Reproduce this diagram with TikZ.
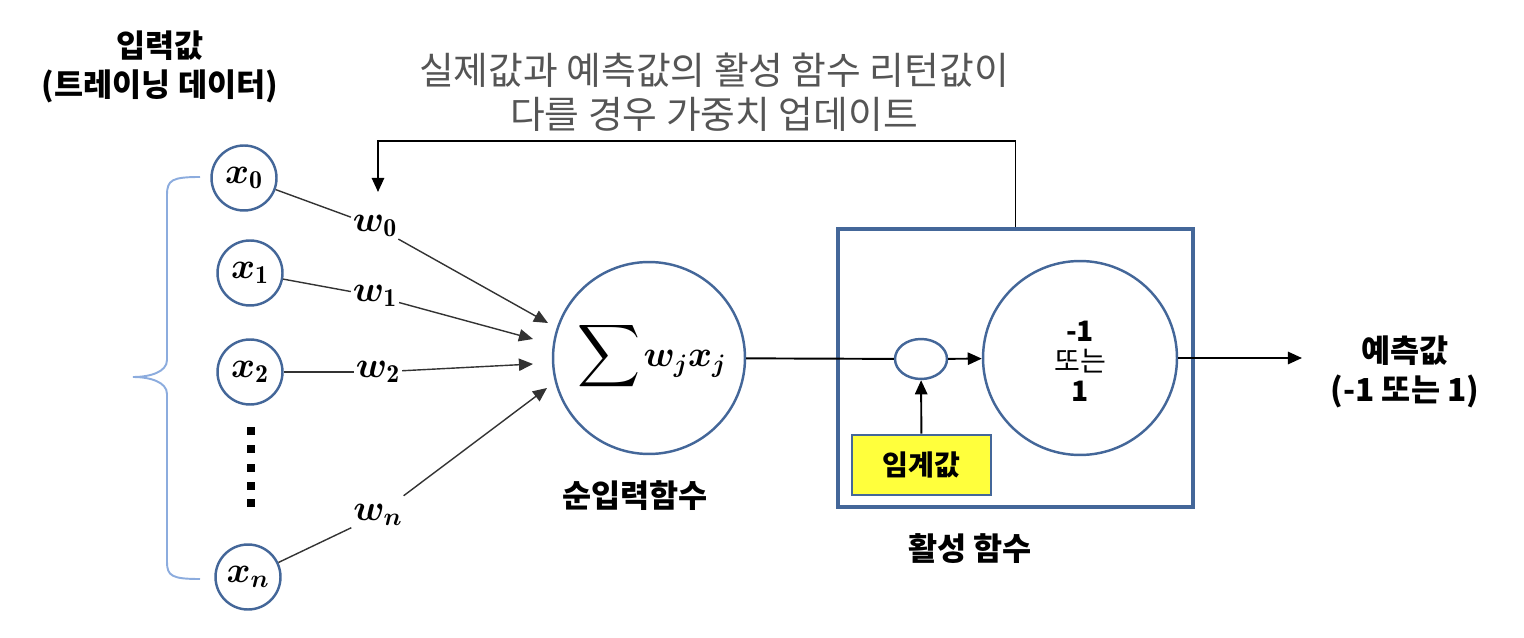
\documentclass[tikz,border=0pt]{standalone}
\usepackage{amsmath}
\usepackage{bm}
\usepackage{fontspec}
\newfontfamily\kr{Noto Sans CJK KR}
\usetikzlibrary{arrows.meta,shapes.geometric}
\definecolor{nodeblue}{RGB}{68,103,153}
\definecolor{bracecol}{RGB}{140,172,222}
\definecolor{toptext}{RGB}{85,85,85}
\definecolor{thrfill}{RGB}{255,255,60}
\tikzset{
  incircle/.style={circle, draw=nodeblue, line width=1.4pt, minimum size=1.3cm, inner sep=0pt, font=\fontsize{21}{25}\selectfont},
  wlabel/.style={inner sep=1pt, font=\fontsize{21}{25}\selectfont},
  conn/.style={draw=black!80, line width=0.8pt},
  arr/.style={conn, -{Triangle[length=8pt,width=7pt]}},
  thick arr/.style={draw=black, line width=1.1pt, -{Triangle[length=8pt,width=7pt]}},
  bigcircle/.style={circle, draw=nodeblue, line width=1.4pt, inner sep=0pt},
  krbold/.style={font=\kr\bfseries\fontsize{18}{22}\selectfont, align=center},
  dotsq/.style={fill=black, minimum size=4.6pt, inner sep=0pt},
}
\begin{document}
\begin{tikzpicture}[x=0.02cm,y=-0.02cm]
\useasboundingbox (0,0) rectangle (1524,638);

% top labels
\node[krbold] (inlabel) at (160,67) {입력값\\(트레이닝 데이터)};
\node[font=\kr\fontsize{21.5}{25}\selectfont, text=toptext, align=center] (fbtext) at (714,92) {실제값과 예측값의 활성 함수 리턴값이\\다를 경우 가중치 업데이트};

% input circles
\node[incircle] (x0) at (244,178) {$\bm{x}_{\mathbf{0}}$};
\node[incircle] (x1) at (250,273) {$\bm{x}_{\mathbf{1}}$};
\node[incircle] (x2) at (250,372) {$\bm{x}_{\mathbf{2}}$};
\node[incircle] (xn) at (248,577) {$\bm{x}_{\bm{n}}$};

% dots
\foreach \i/\yy in {1/431,2/449,3/468,4/486,5/503}
  \node[dotsq] (dot\i) at (251,\yy) {};

% brace
\draw[bracecol, line width=1.1pt] (200,177) .. controls (172,177) and (167,180) .. (167,195) -- (167,360)
  .. controls (167,372) and (150,377) .. (133,377)
  .. controls (150,377) and (167,382) .. (167,394) -- (167,562)
  .. controls (167,576) and (172,579) .. (200,579);

% weights
\node[wlabel] (w0) at (375,226) {$\bm{w}_{\mathbf{0}}$};
\node[wlabel] (w1) at (375,296) {$\bm{w}_{\mathbf{1}}$};
\node[wlabel] (w2) at (378,372) {$\bm{w}_{\mathbf{2}}$};
\node[wlabel] (wn) at (378,515) {$\bm{w}_{\bm{n}}$};

% sum node
\node[bigcircle, minimum size=3.84cm] (sum) at (649,358) {};
\node (sumtext) at (652,356) {{\fontsize{29}{30}\selectfont$\displaystyle\sum$}\,{\fontsize{21}{25}\selectfont$\bm{w_jx_j}$}};
\node[krbold] (sumlabel) at (635,496) {순입력함수};

% arrow tips at sum
\coordinate (t0) at (548,323);
\coordinate (t1) at (533,339);
\coordinate (t2) at (533,364);
\coordinate (tn) at (547,388);

\draw[conn] (x0) -- (w0);
\draw[conn] (x1) -- (w1);
\draw[conn] (x2) -- (w2);
\draw[conn] (xn) -- (wn);
\draw[arr] (w0) -- (t0);
\draw[arr] (w1) -- (t1);
\draw[arr] (w2) -- (t2);
\draw[arr, shorten <=6pt] (wn) -- (tn);

% activation box
\node[draw=nodeblue, line width=2.2pt, minimum width=7.1cm, minimum height=5.56cm, inner sep=0pt] (act) at (1015.5,368) {};
\node[krbold] (actlabel) at (970,549) {활성 함수};
\node[ellipse, draw=nodeblue, line width=1.4pt, minimum width=1.04cm, minimum height=0.8cm, inner sep=0pt] (ell) at (921,359) {};
\node[bigcircle, minimum size=3.88cm] (step) at (1080,358) {};
\node[align=center, font=\kr\fontsize{16}{19}\selectfont] (steptext) at (1080,361) {\textbf{-1}\\[-2pt]또는\\[-2pt]\textbf{1}};
\node[draw=nodeblue, fill=thrfill, line width=1.6pt, minimum width=2.78cm, minimum height=1.2cm, inner sep=0pt, font=\kr\bfseries\fontsize{16}{19}\selectfont] (thr) at (921.5,465) {임계값};

\draw[draw=black, line width=1.1pt] (sum) -- (ell);
\draw[thick arr] (ell) -- (step);
\draw[thick arr] (thr) -- (ell);

% output
\coordinate (out) at (1302,358);
\draw[thick arr] (step) -- (out);
\node[krbold] (outlabel) at (1405,372) {예측값\\(-1 또는 1)};

% feedback
\coordinate (fbtip) at (378,192);
\draw[thick arr] (act.north) -- ++(0,-86) -| (fbtip);
\end{tikzpicture}
\end{document}
